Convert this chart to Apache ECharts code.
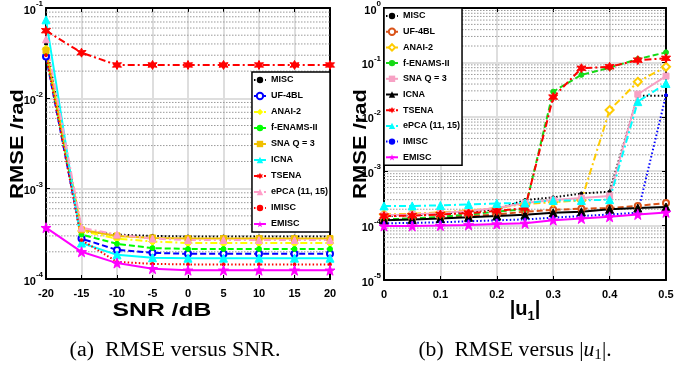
<!DOCTYPE html>
<html><head><meta charset="utf-8">
<script src="https://cdn.jsdelivr.net/npm/echarts@6/dist/echarts.min.js"></script>
<style>
html,body{margin:0;padding:0;background:#fff;width:694px;height:368px;overflow:hidden}
#a{position:absolute;left:0;top:0;width:347px;height:368px}
#b{position:absolute;left:347px;top:0;width:347px;height:368px}
</style></head><body><div id="a"></div><div id="b"></div>
<script>
// ---------- data ----------
const snrDB = [-20, -15, -10, -5, 0, 5, 10, 15, 20];
const u1Vals = [0, 0.05, 0.1, 0.15, 0.2, 0.25, 0.3, 0.35, 0.4, 0.45, 0.5];
const methodNames = ['MISC', 'UF-4BL', 'ANAI-2', 'f-ENAMS-II', 'SNA Q = 3', 'ICNA', 'TSENA', 'ePCA (11, 15)', 'IMISC', 'EMISC'];

// (a) RMSE versus SNR
const aMISC   = [0.040, 3.4e-4, 3.1e-4, 3.0e-4, 2.95e-4, 2.95e-4, 2.95e-4, 2.95e-4, 2.95e-4];
const aUF4BL  = [0.029, 2.8e-4, 2.1e-4, 1.95e-4, 1.9e-4, 1.9e-4, 1.9e-4, 1.9e-4, 1.9e-4];
const aANAI2  = [0.035, 3.4e-4, 2.8e-4, 2.6e-4, 2.5e-4, 2.5e-4, 2.5e-4, 2.5e-4, 2.5e-4];
const aFENAMS = [0.032, 3.1e-4, 2.45e-4, 2.2e-4, 2.15e-4, 2.15e-4, 2.15e-4, 2.15e-4, 2.15e-4];
const aSNA    = [0.034, 3.5e-4, 3.0e-4, 2.85e-4, 2.8e-4, 2.8e-4, 2.8e-4, 2.8e-4, 2.8e-4];
const aICNA   = [0.074, 2.5e-4, 1.85e-4, 1.72e-4, 1.7e-4, 1.7e-4, 1.7e-4, 1.7e-4, 1.7e-4];
const aTSENA  = [0.056, 0.032, 0.0234, 0.0234, 0.0234, 0.0234, 0.0234, 0.0234, 0.0234];
const aEPCA   = [0.045, 3.7e-4, 3.1e-4, 2.8e-4, 2.7e-4, 2.7e-4, 2.7e-4, 2.7e-4, 2.7e-4];
const aIMISC  = [0.030, 2.7e-4, 1.55e-4, 1.47e-4, 1.45e-4, 1.45e-4, 1.45e-4, 1.45e-4, 1.45e-4];
const aEMISC  = [3.7e-4, 2.0e-4, 1.5e-4, 1.3e-4, 1.25e-4, 1.25e-4, 1.25e-4, 1.25e-4, 1.25e-4];

// (b) RMSE versus |u1|
const bMISC   = [1.5e-4, 1.55e-4, 1.65e-4, 1.8e-4, 2.0e-4, 2.95e-4, 3.3e-4, 3.9e-4, 4.2e-4, 0.0245, 0.0245];
const bUF4BL  = [1.3e-4, 1.35e-4, 1.4e-4, 1.5e-4, 1.6e-4, 1.8e-4, 1.95e-4, 2.05e-4, 2.1e-4, 2.3e-4, 2.6e-4];
const bANAI2  = [1.6e-4, 1.65e-4, 1.75e-4, 1.9e-4, 2.1e-4, 2.5e-4, 2.7e-4, 2.9e-4, 0.0133, 0.044, 0.083];
const bFENAMS = [1.3e-4, 1.35e-4, 1.45e-4, 1.6e-4, 1.8e-4, 2.0e-4, 0.029, 0.059, 0.080, 0.115, 0.153];
const bSNA    = [1.55e-4, 1.6e-4, 1.7e-4, 1.85e-4, 2.1e-4, 2.6e-4, 2.95e-4, 3.2e-4, 3.5e-4, 0.026, 0.056];
const bICNA   = [1.26e-4, 1.3e-4, 1.35e-4, 1.42e-4, 1.5e-4, 1.58e-4, 1.73e-4, 1.8e-4, 2.0e-4, 2.1e-4, 2.2e-4];
const bTSENA  = [1.5e-4, 1.52e-4, 1.6e-4, 1.7e-4, 1.86e-4, 2.1e-4, 0.023, 0.078, 0.083, 0.110, 0.119];
const bEPCA   = [2.3e-4, 2.3e-4, 2.35e-4, 2.45e-4, 2.55e-4, 2.6e-4, 2.9e-4, 2.9e-4, 3.0e-4, 0.019, 0.041];
const bIMISC  = [1.1e-4, 1.12e-4, 1.15e-4, 1.2e-4, 1.25e-4, 1.3e-4, 1.4e-4, 1.5e-4, 1.6e-4, 1.73e-4, 0.025];
const bEMISC  = [9.8e-5, 9.8e-5, 1.0e-4, 1.03e-4, 1.07e-4, 1.1e-4, 1.26e-4, 1.35e-4, 1.45e-4, 1.6e-4, 1.75e-4];

// ---------- styles ----------
const SANS = '"Liberation Sans", Arial, Helvetica, sans-serif';
const SERIF = '"Liberation Serif", "Times New Roman", serif';
const STAR5 = 'path://M50,0 L61.2,34.5 L97.6,34.5 L68.2,55.9 L79.4,90.5 L50,69.1 L20.6,90.5 L31.8,55.9 L2.4,34.5 L38.8,34.5 Z';
const STAR6 = 'path://M50,0 L62.5,28.3 L93.3,25 L75,50 L93.3,75 L62.5,71.7 L50,100 L37.5,71.7 L6.7,75 L25,50 L6.7,25 L37.5,28.3 Z';
const DASH = [6, 3], DOT = [1.5, 2.2], DASHDOT = [7, 3, 2, 3];

function mk(name, xs, ys, color, dash, symbol, size, width) {
  return {
    name: name, type: 'line', z: 3,
    data: xs.map((x, i) => [x, ys[i]]),
    lineStyle: {color: color, type: dash, width: width || 2},
    itemStyle: {color: color, borderColor: color},
    symbol: symbol, symbolSize: size, showSymbol: true,
    emphasis: {disabled: true}
  };
}

// dotted minor grid lines at 2..9 x 10^e (drawn through the axes)
function minorLines(xmin, xmax, lo, hi) {
  const out = [];
  for (let e = lo; e < hi; e++) for (let k = 2; k <= 9; k++) {
    const v = k * Math.pow(10, e);
    out.push({type: 'line', z: 1, silent: true, symbol: 'none', data: [[xmin, v], [xmax, v]],
      lineStyle: {color: '#9a9a9a', type: [1.5, 1.5], width: 1}, emphasis: {disabled: true}});
  }
  return out;
}

function yLog(min, max, split, showLabel) {
  return {
    type: 'log', logBase: 10, min: min, max: max, splitNumber: split,
    axisLine: {show: true, onZero: false, lineStyle: {color: '#000', width: 2}},
    axisTick: {show: true, inside: true, length: 4, lineStyle: {color: '#000', width: 1}},
    splitLine: {show: showLabel, lineStyle: {color: '#dedede', width: 2}},
    axisLabel: showLabel ? {
      margin: 3,
      formatter: v => '{b|10}{s|' + Math.round(Math.log10(v)) + '}',
      rich: {
        b: {fontSize: 11, fontWeight: 'bold', fontFamily: SANS, color: '#000', padding: [5, 0, 0, 0], verticalAlign: 'bottom'},
        s: {fontSize: 8, fontWeight: 'bold', fontFamily: SANS, color: '#000', verticalAlign: 'top'}
      }
    } : {show: false}
  };
}

function xVal(min, max, interval, showLabel, fmt, pos) {
  return {
    type: 'value', min: min, max: max, interval: interval, position: pos,
    axisLine: {show: true, onZero: false, lineStyle: {color: '#000', width: 2}},
    axisTick: {show: true, inside: true, length: 4, lineStyle: {color: '#000', width: 1}},
    splitLine: {show: showLabel, lineStyle: {color: '#dedede', width: 2}},
    axisLabel: showLabel ? {margin: 9, fontSize: 11, fontWeight: 'bold', fontFamily: SANS, color: '#000', formatter: fmt} : {show: false}
  };
}

function legendCfg(pos, gap) {
  return Object.assign({
    orient: 'vertical', data: methodNames,
    itemWidth: 12, itemHeight: 8, itemGap: gap,
    padding: [3, 2, 3, 1],
    backgroundColor: '#fff', borderColor: '#000', borderWidth: 1.5, borderRadius: 0,
    textStyle: {fontFamily: SANS, fontWeight: 'bold', fontSize: 9, color: '#000', lineHeight: 10},
    selectedMode: false
  }, pos);
}

function yName(x, y) {
  return {type: 'text', x: x, y: y, rotation: Math.PI / 2, scaleX: 1.22, z: 10,
    style: {text: 'RMSE /rad', font: 'bold 18px ' + SANS, fill: '#000', textAlign: 'center', textVerticalAlign: 'middle'}};
}

// ---------- chart (a) ----------
const chartA = echarts.init(document.getElementById('a'), null, {renderer: 'canvas'});
const seriesA = minorLines(-20, 20, -4, -1).concat([
  mk(methodNames[0], snrDB, aMISC, '#000000', DOT, 'circle', 3, 2),
  mk(methodNames[1], snrDB, aUF4BL, '#0000ff', DASH, 'emptyCircle', 6, 2),
  mk(methodNames[2], snrDB, aANAI2, '#ffff00', DASHDOT, 'diamond', 8, 2),
  mk(methodNames[3], snrDB, aFENAMS, '#00ff00', DASH, 'circle', 5, 2),
  mk(methodNames[4], snrDB, aSNA, '#f0c000', 'solid', 'rect', 6, 2),
  mk(methodNames[5], snrDB, aICNA, '#00ffff', 'solid', 'triangle', 8, 2),
  mk(methodNames[6], snrDB, aTSENA, '#ff0000', DASHDOT, STAR6, 9, 2),
  mk(methodNames[7], snrDB, aEPCA, '#ff9ec8', DASHDOT, 'triangle', 7, 2),
  mk(methodNames[8], snrDB, aIMISC, '#ff0000', DOT, 'circle', 3, 2),
  mk(methodNames[9], snrDB, aEMISC, '#ff00ff', 'solid', STAR5, 10, 2)
]);
chartA.setOption({
  animation: false, backgroundColor: '#fff',
  grid: {left: 46, right: 17, top: 8, bottom: 89, show: true, backgroundColor: '#fff', borderWidth: 0},
  xAxis: [xVal(-20, 20, 5, true, v => String(v), 'bottom'), xVal(-20, 20, 5, false, null, 'top')],
  yAxis: [yLog(1e-4, 1e-1, 3, true), Object.assign(yLog(1e-4, 1e-1, 3, false), {position: 'right'})],
  legend: legendCfg({right: 17, top: 72}, 6),
  series: seriesA,
  graphic: [
    yName(18, 144),
    {type: 'text', x: 162, y: 311, scaleX: 1.3, z: 10,
      style: {text: 'SNR /dB', font: 'bold 19px ' + SANS, fill: '#000', textAlign: 'center', textVerticalAlign: 'middle'}},
    {type: 'text', x: 175, y: 351, scaleX: 1.1, z: 10,
      style: {text: '(a)  RMSE versus SNR.', font: '20px ' + SERIF, fill: '#000', textAlign: 'center', textVerticalAlign: 'middle'}}
  ]
});

// ---------- chart (b) ----------
const chartB = echarts.init(document.getElementById('b'), null, {renderer: 'canvas'});
const seriesB = minorLines(0, 0.5, -5, 0).concat([
  mk(methodNames[0], u1Vals, bMISC, '#000000', DOT, 'circle', 3, 2),
  mk(methodNames[1], u1Vals, bUF4BL, '#d95319', DASH, 'emptyCircle', 6, 2),
  mk(methodNames[2], u1Vals, bANAI2, '#ffcc00', DASHDOT, 'emptyDiamond', 8, 2),
  mk(methodNames[3], u1Vals, bFENAMS, '#16d916', DASH, 'circle', 5, 2),
  mk(methodNames[4], u1Vals, bSNA, '#f7a1c4', 'solid', 'rect', 6, 2),
  mk(methodNames[5], u1Vals, bICNA, '#000000', 'solid', 'triangle', 8, 2),
  mk(methodNames[6], u1Vals, bTSENA, '#ff0000', DASHDOT, STAR6, 9, 2),
  mk(methodNames[7], u1Vals, bEPCA, '#00ffff', DASHDOT, 'triangle', 8, 2),
  mk(methodNames[8], u1Vals, bIMISC, '#0000ff', DOT, 'circle', 3, 2),
  mk(methodNames[9], u1Vals, bEMISC, '#ff00ff', 'solid', STAR5, 10, 2)
]);
chartB.setOption({
  animation: false, backgroundColor: '#fff',
  grid: {left: 37, right: 28, top: 8, bottom: 88, show: true, backgroundColor: '#fff', borderWidth: 0},
  xAxis: [xVal(0, 0.5, 0.1, true, v => String(+v.toFixed(1)), 'bottom'), xVal(0, 0.5, 0.1, false, null, 'top')],
  yAxis: [yLog(1e-5, 1, 5, true), Object.assign(yLog(1e-5, 1, 5, false), {position: 'right'})],
  legend: legendCfg({left: 37, top: 8}, 5.7),
  series: seriesB,
  graphic: [
    yName(14, 144),
    {type: 'text', x: 178, y: 311, z: 10,
      style: {text: '{b||u}{s|1}{b||}', font: 'bold 19px ' + SANS, fill: '#000', textAlign: 'center', textVerticalAlign: 'middle',
        rich: {b: {font: 'bold 20px ' + SANS, fill: '#000', verticalAlign: 'top'}, s: {font: 'bold 13px ' + SANS, fill: '#000', verticalAlign: 'bottom', padding: [10, 0, 0, 0]}}}},
    {type: 'text', x: 168, y: 351, scaleX: 1.08, z: 10,
      style: {text: '{n|(b)  RMSE versus |}{i|u}{sub|1}{n||.}', font: '20px ' + SERIF, fill: '#000', textAlign: 'center', textVerticalAlign: 'middle',
        rich: {n: {font: '20px ' + SERIF, fill: '#000'}, i: {font: 'italic 20px ' + SERIF, fill: '#000'}, sub: {font: '14px ' + SERIF, fill: '#000', verticalAlign: 'bottom', padding: [8, 0, 0, 0]}}}}
  ]
});
</script></body></html>
